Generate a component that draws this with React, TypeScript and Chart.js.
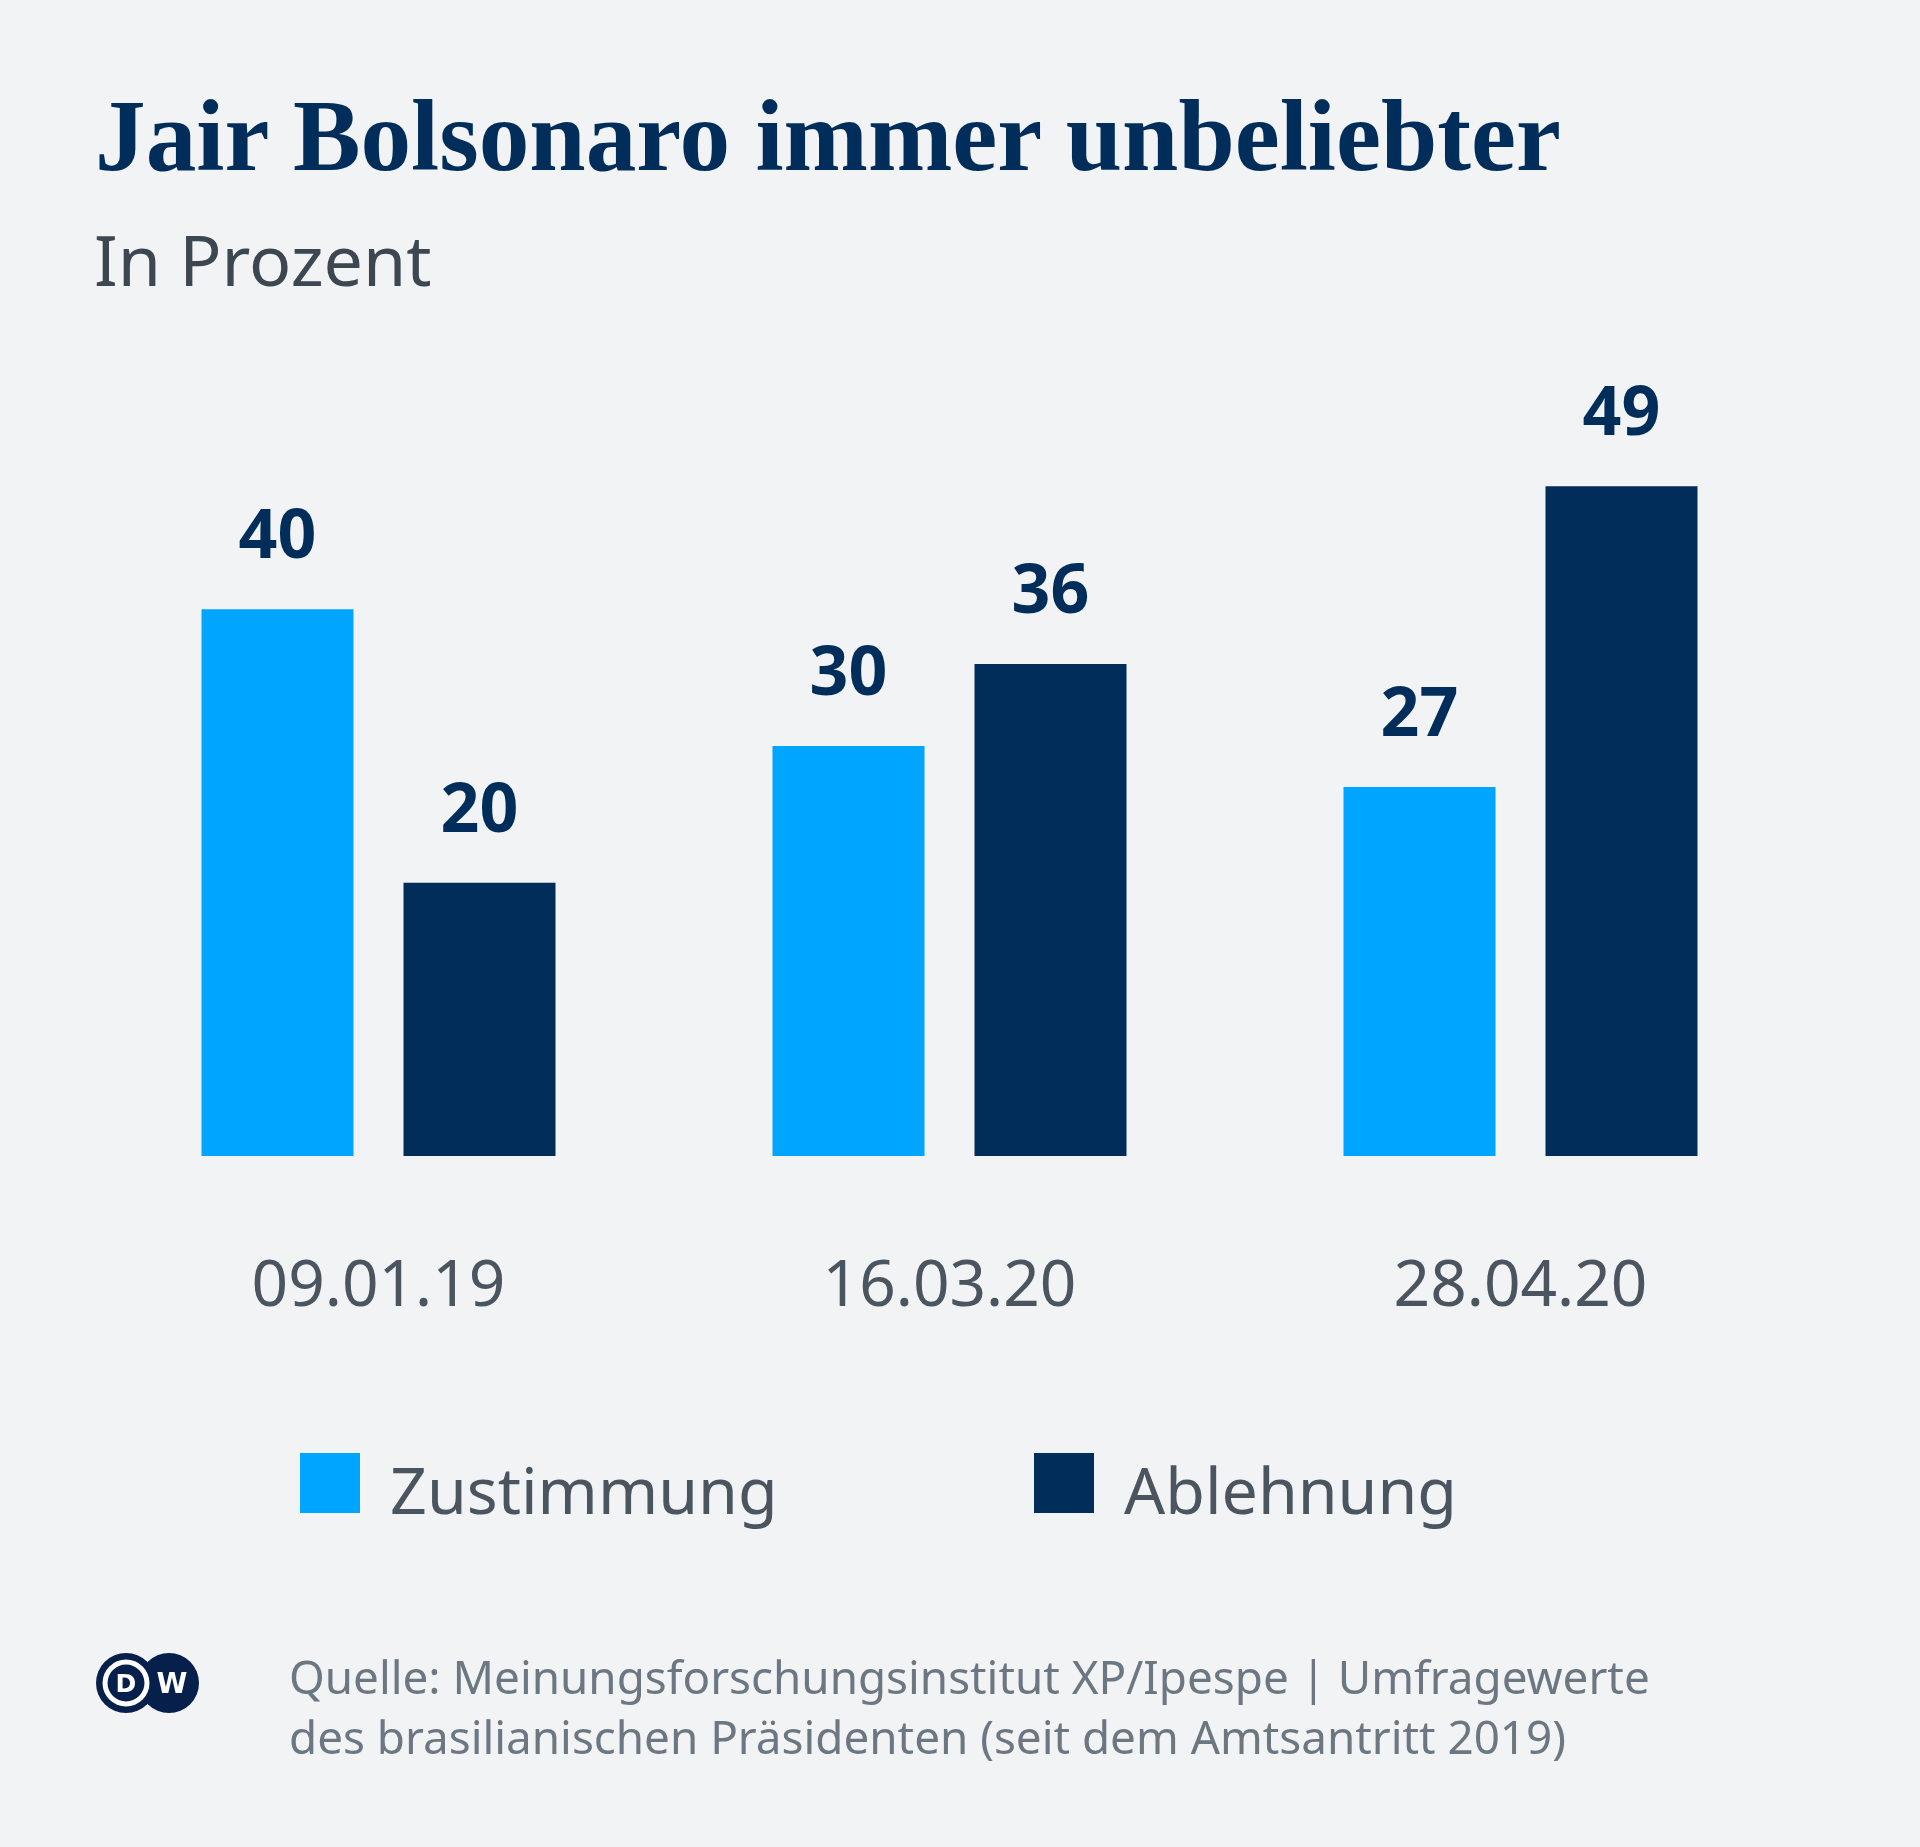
import React, { useEffect, useRef } from "react";
import { Chart, registerables } from "chart.js";

Chart.register(...registerables);

// ---- data ----
const categories = ["09.01.19", "16.03.20", "28.04.20"];
const seriesNames = ["Zustimmung", "Ablehnung"];
const zustimmung = [40, 30, 27];
const ablehnung = [20, 36, 49];
const yMax = 60;

const titleText = "Jair Bolsonaro immer unbeliebter";
const subtitleText = "In Prozent";
const sourceLine1 = "Quelle: Meinungsforschungsinstitut XP/Ipespe | Umfragewerte";
const sourceLine2 = "des brasilianischen Präsidenten (seit dem Amtsantritt 2019)";

// ---- style ----
const BG = "#f1f3f5";
const NAVY = "#002d5a";
const BLUE = "#00a5ff";
const LABEL_GRAY = "#4b5560";
const SUB_GRAY = "#3d4751";
const SOURCE_GRAY = "#6c7782";
const LOGO = "#07204b";

const valueLabelPlugin = {
  id: "valueLabels",
  afterDatasetsDraw(chart: any) {
    const ctx = chart.ctx;
    ctx.save();
    ctx.font = "bold 68px 'Noto Sans'";
    ctx.fillStyle = NAVY;
    ctx.textAlign = "center";
    ctx.textBaseline = "alphabetic";
    chart.data.datasets.forEach((ds: any, i: number) => {
      const meta = chart.getDatasetMeta(i);
      meta.data.forEach((el: any, j: number) => {
        ctx.fillText(String(ds.data[j]), el.x, el.y - 51);
      });
    });
    ctx.restore();
  },
};

const legendPlugin = {
  id: "customLegend",
  afterDraw(chart: any) {
    const ctx = chart.ctx;
    const boxX = [300, 1034];
    const boxTop = 1453;
    const size = 60;
    ctx.save();
    ctx.font = "64.5px 'Noto Sans'";
    ctx.textAlign = "left";
    ctx.textBaseline = "alphabetic";
    chart.data.datasets.forEach((ds: any, i: number) => {
      ctx.fillStyle = ds.backgroundColor;
      ctx.fillRect(boxX[i], boxTop, size, size);
      ctx.fillStyle = LABEL_GRAY;
      ctx.fillText(ds.label, boxX[i] + size + 30, 1514);
    });
    ctx.restore();
  },
};

export default function App() {
  const canvasRef = useRef<HTMLCanvasElement | null>(null);

  useEffect(() => {
    if (!canvasRef.current) return;
    const tickPad = 100;
    const chart = new Chart(canvasRef.current, {
      type: "bar",
      data: {
        labels: categories,
        datasets: [
          {
            label: seriesNames[0],
            data: zustimmung,
            backgroundColor: BLUE,
            borderWidth: 0,
            categoryPercentage: 0.7075,
            barPercentage: 0.7525,
          },
          {
            label: seriesNames[1],
            data: ablehnung,
            backgroundColor: NAVY,
            borderWidth: 0,
            categoryPercentage: 0.7075,
            barPercentage: 0.7525,
          },
        ],
      },
      options: {
        responsive: false,
        animation: false,
        devicePixelRatio: 1,
        layout: {
          padding: { top: 336, left: 93, right: 114, bottom: 627 - 2 * tickPad },
        },
        plugins: {
          legend: { display: false },
          title: { display: false },
          tooltip: { enabled: false },
        },
        scales: {
          x: {
            grid: { display: false, drawTicks: false },
            border: { display: false },
            ticks: {
              color: LABEL_GRAY,
              padding: tickPad,
              font: { family: "'Noto Sans'", size: 64, lineHeight: 1 },
              maxRotation: 0,
              autoSkip: false,
            },
          },
          y: {
            display: false,
            min: 0,
            max: yMax,
          },
        },
      },
      plugins: [valueLabelPlugin, legendPlugin],
    } as any);
    return () => chart.destroy();
  }, []);

  return (
    <div
      style={{
        position: "absolute",
        left: 0,
        top: 0,
        width: 1920,
        height: 1847,
        background: BG,
        overflow: "hidden",
      }}
    >
      <canvas
        ref={canvasRef}
        width={1920}
        height={1847}
        style={{ position: "absolute", left: 0, top: 0, width: 1920, height: 1847, display: "block" }}
      />
      <div
        style={{
          position: "absolute",
          left: 95,
          top: 86,
          fontFamily: "'Liberation Serif', serif",
          fontWeight: "bold",
          fontSize: 101.3,
          lineHeight: "101.3px",
          color: NAVY,
          whiteSpace: "nowrap",
        }}
      >
        {titleText}
      </div>
      <div
        style={{
          position: "absolute",
          left: 94,
          top: 224,
          fontFamily: "'Noto Sans', sans-serif",
          fontSize: 70,
          lineHeight: "70px",
          color: SUB_GRAY,
          whiteSpace: "nowrap",
        }}
      >
        {subtitleText}
      </div>
      <svg
        width={106}
        height={62}
        viewBox="0 0 106 62"
        style={{ position: "absolute", left: 95, top: 1652 }}
      >
        <circle cx={74} cy={31} r={30} fill={LOGO} />
        <circle cx={31} cy={31} r={30} fill={LOGO} />
        <circle cx={31} cy={31} r={23.5} fill="#ffffff" />
        <circle cx={31} cy={31} r={18.5} fill={LOGO} />
        <text
          x={31}
          y={40}
          textAnchor="middle"
          fill="#ffffff"
          fontFamily="'DejaVu Sans', sans-serif"
          fontWeight="bold"
          fontSize={25}
        >
          D
        </text>
        <text
          x={77}
          y={41}
          textAnchor="middle"
          fill="#ffffff"
          fontFamily="'DejaVu Sans', sans-serif"
          fontWeight="bold"
          fontSize={28}
        >
          W
        </text>
      </svg>
      <div
        style={{
          position: "absolute",
          left: 289,
          top: 1646,
          fontFamily: "'Noto Sans', sans-serif",
          fontSize: 45.8,
          lineHeight: "60px",
          color: SOURCE_GRAY,
          whiteSpace: "nowrap",
        }}
      >
        {sourceLine1}
        <br />
        {sourceLine2}
      </div>
    </div>
  );
}
